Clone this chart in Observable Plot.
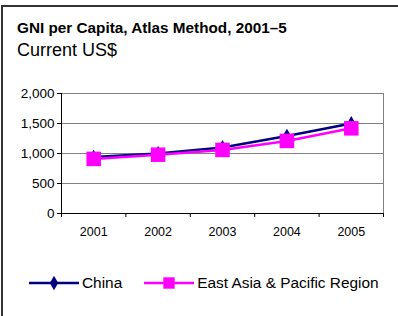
<!DOCTYPE html>
<html>
<head>
<meta charset="utf-8">
<script src="https://cdn.jsdelivr.net/npm/d3@7"></script>
<script src="https://cdn.jsdelivr.net/npm/@observablehq/plot@0.6"></script>
<style>
  html, body { margin: 0; padding: 0; background: #fff; overflow: hidden; }
  #wrap { position: relative; width: 398px; height: 316px; overflow: hidden; font-family: "Liberation Sans", Arial, sans-serif; color: #000; }
  #frame { position: absolute; left: 1px; top: 5px; width: 397px; height: 311px; border-top: 2px solid #333; border-left: 2px solid #333; border-right: 0; border-bottom: 0; box-sizing: border-box; }
  #title { position: absolute; left: 17px; top: 19px; font-weight: bold; font-size: 15.3px; white-space: nowrap; }
  #subtitle { position: absolute; left: 17px; top: 40px; font-size: 18px; white-space: nowrap; }
  #chart { position: absolute; left: 0; top: 0; }
  #legend { position: absolute; left: 29px; top: 274px; font-size: 15.4px; display: flex; align-items: center; white-space: nowrap; }
  .item { display: flex; align-items: center; }
  .item svg { display: block; }
</style>
</head>
<body>
<div id="wrap">
  <div id="frame"></div>
  <div id="title"></div>
  <div id="subtitle"></div>
  <div id="chart"></div>
  <div id="legend"></div>
</div>
<script>
const titleText = "GNI per Capita, Atlas Method, 2001–5";
const subtitleText = "Current US$";
const years = [2001, 2002, 2003, 2004, 2005];
const china = [940, 1000, 1100, 1290, 1500];
const eap = [910, 980, 1060, 1210, 1420];
const yTicks = [0, 500, 1000, 1500, 2000];
const seriesNames = ["China", "East Asia & Pacific Region"];
const seriesColors = ["#000080", "#FF00FF"];

document.getElementById("title").textContent = titleText;
document.getElementById("subtitle").textContent = subtitleText;

const chinaData = years.map((y, i) => ({year: y, value: china[i]}));
const eapData = years.map((y, i) => ({year: y, value: eap[i]}));
const boundaries = [years[0] - 0.5, ...years.map(y => y + 0.5)];

const chart = Plot.plot({
  width: 398,
  height: 316,
  marginTop: 93,
  marginBottom: 103,
  marginLeft: 61,
  marginRight: 15,
  style: {fontFamily: "Liberation Sans, Arial, sans-serif", fontSize: "12.5px", color: "#000", background: "transparent"},
  x: {domain: [boundaries[0], boundaries[boundaries.length - 1]]},
  y: {domain: [0, 2000]},
  marks: [
    Plot.gridY(yTicks.slice(1), {stroke: "#808080", strokeOpacity: 1}),
    Plot.frame({stroke: "#808080"}),
    Plot.ruleY([0], {stroke: "#000"}),
    Plot.frame({anchor: "left", stroke: "#000"}),
    Plot.axisY({ticks: yTicks, tickFormat: d3.format(","), tickSize: 4, tickPadding: 3, fontSize: 13.5, label: null}),
    Plot.axisX({ticks: boundaries, tickFormat: () => "", tickSize: 4, label: null}),
    Plot.axisX({ticks: years, tickFormat: d => String(d), tickSize: 0, tickPadding: 14, fontSize: 12.5, label: null}),
    Plot.line(chinaData, {x: "year", y: "value", stroke: seriesColors[0], strokeWidth: 2.5}),
    Plot.dot(chinaData, {x: "year", y: "value", symbol: "diamond", fill: seriesColors[0], r: 4.5}),
    Plot.line(eapData, {x: "year", y: "value", stroke: seriesColors[1], strokeWidth: 2.5}),
    Plot.dot(eapData, {x: "year", y: "value", symbol: "square", fill: seriesColors[1], r: 8.2})
  ]
});
document.getElementById("chart").appendChild(chart);

const legend = document.getElementById("legend");
const symSizes = [60, 130];
seriesNames.forEach((name, i) => {
  const item = document.createElement("div");
  item.className = "item";
  if (i > 0) item.style.marginLeft = "22px";
  const s = d3.create("svg").attr("width", 50).attr("height", 16);
  s.append("line").attr("x1", 0).attr("x2", 50).attr("y1", 8).attr("y2", 8)
    .attr("stroke", seriesColors[i]).attr("stroke-width", 2.5);
  s.append("path").attr("transform", "translate(25,8)")
    .attr("d", d3.symbol(i === 0 ? d3.symbolDiamond : d3.symbolSquare, symSizes[i])())
    .attr("fill", seriesColors[i]);
  item.appendChild(s.node());
  const t = document.createElement("span");
  t.textContent = name;
  t.style.marginLeft = "3px";
  item.appendChild(t);
  legend.appendChild(item);
});
</script>
</body>
</html>
